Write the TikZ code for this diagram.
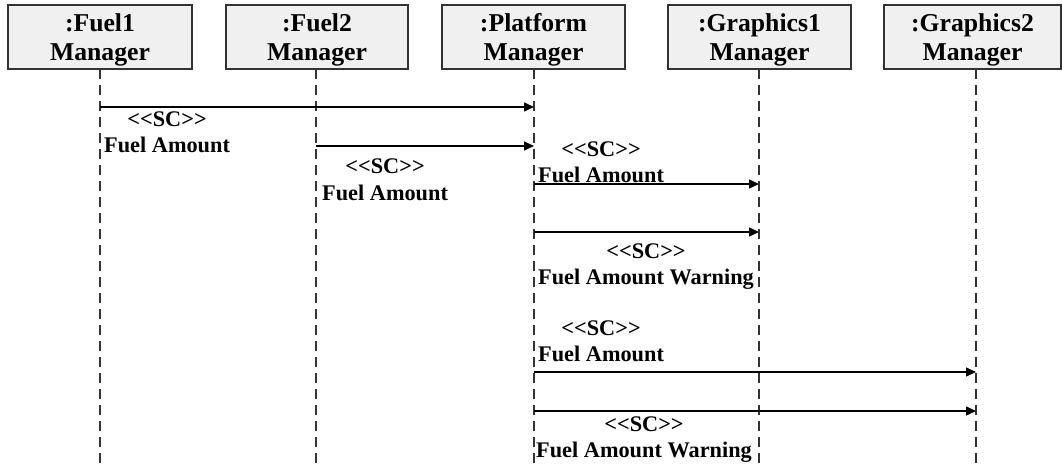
\documentclass[tikz,border=0pt]{standalone}
\usepackage{fontspec}
\newfontfamily\diafont{Liberation Serif}
\usetikzlibrary{arrows.meta}
\definecolor{boxfill}{HTML}{F0F0F0}
\definecolor{boxline}{HTML}{333333}
\tikzset{
  objbox/.style={draw=boxline, fill=boxfill, line width=1.5pt, inner sep=0pt,
    minimum height=64pt, align=center, text depth=0pt,
    font=\diafont\bfseries\fontsize{25.7}{29.5}\selectfont},
  lifeline/.style={draw=boxline, line width=1.4pt, dash pattern=on 10pt off 6pt},
  msg/.style={draw=black, line width=1.4pt, -{Triangle[length=10pt,width=9pt]}},
  lbl/.style={inner sep=0pt, font=\diafont\bfseries\fontsize{22.3}{26}\selectfont}
}
\begin{document}
\begin{tikzpicture}[x=1pt,y=1pt]
\useasboundingbox (0,0) rectangle (1062,-468);

% object boxes
\node[objbox, minimum width=184pt] (f1) at (100,-37) {:Fuel1\\Manager};
\node[objbox, minimum width=182pt] (f2) at (317,-37) {:Fuel2\\Manager};
\node[objbox, minimum width=183pt] (pm) at (533.5,-37) {:Platform\\Manager};
\node[objbox, minimum width=183pt] (g1) at (759.5,-37) {:Graphics1\\Manager};
\node[objbox, minimum width=177pt] (g2) at (972.5,-37) {:Graphics2\\Manager};

% lifelines
\coordinate (f1t) at (100,-69);   \coordinate (f1b) at (100,-468);
\coordinate (f2t) at (316,-69);   \coordinate (f2b) at (316,-468);
\coordinate (pmt) at (534,-69);   \coordinate (pmb) at (534,-468);
\coordinate (g1t) at (759,-69);   \coordinate (g1b) at (759,-468);
\coordinate (g2t) at (976,-69);   \coordinate (g2b) at (976,-468);
\foreach \l in {f1,f2,pm,g1,g2} \draw[lifeline] (\l t) -- (\l b);

% message end points
\coordinate (m1s) at (100,-107); \coordinate (m1e) at (534,-107);
\coordinate (m2s) at (316,-146); \coordinate (m2e) at (534,-146);
\coordinate (m3s) at (534,-184); \coordinate (m3e) at (759,-184);
\coordinate (m4s) at (534,-232); \coordinate (m4e) at (759,-232);
\coordinate (m5s) at (534,-372); \coordinate (m5e) at (976,-372);
\coordinate (m6s) at (534,-411); \coordinate (m6e) at (976,-411);
\foreach \m in {m1,m2,m3,m4,m5,m6} \draw[msg] (\m s) -- (\m e);

% message labels
\node[lbl, anchor=base west] (m1b) at (104,-153) {Fuel Amount};
\node[lbl, anchor=base] (m1a) at ([yshift=26pt]m1b.base) {<<SC>>};
\node[lbl, anchor=base west] (m2b) at (322,-200) {Fuel Amount};
\node[lbl, anchor=base] (m2a) at ([yshift=27pt]m2b.base) {<<SC>>};
\node[lbl, anchor=base west] (m3b) at (538,-182) {Fuel Amount};
\node[lbl, anchor=base] (m3a) at ([yshift=26pt]m3b.base) {<<SC>>};
\node[lbl, anchor=base west] (m4b) at (538,-284) {Fuel Amount Warning};
\node[lbl, anchor=base] (m4a) at ([yshift=26pt]m4b.base) {<<SC>>};
\node[lbl, anchor=base west] (m5b) at (538,-361) {Fuel Amount};
\node[lbl, anchor=base] (m5a) at ([yshift=26pt]m5b.base) {<<SC>>};
\node[lbl, anchor=base west] (m6b) at (536,-457) {Fuel Amount Warning};
\node[lbl, anchor=base] (m6a) at ([yshift=26pt]m6b.base) {<<SC>>};
\end{tikzpicture}
\end{document}
